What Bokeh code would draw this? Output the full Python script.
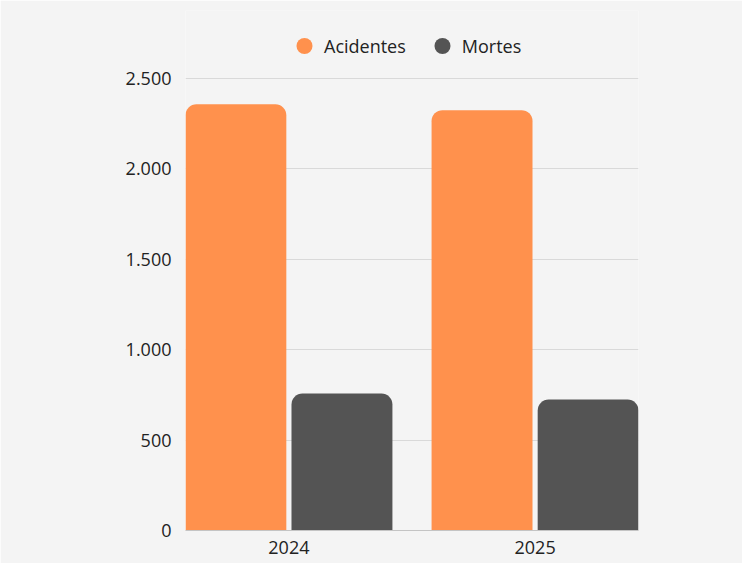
import numpy as np
from bokeh.plotting import figure
from bokeh.models import (ColumnDataSource, Range1d, FixedTicker, Legend, LegendItem)
from bokeh.transform import dodge
from bokeh.embed import file_html
from bokeh.resources import INLINE

# ---- data ----
years = ["2024", "2025"]
acidentes = [2357, 2325]
mortes = [758, 724]
y_ticks = [0, 500, 1000, 1500, 2000, 2500]
y_tick_labels = ["0", "500", "1.000", "1.500", "2.000", "2.500"]
series_names = ["Acidentes", "Mortes"]
colors = ["#FF914D", "#545454"]

FONT = "Open Sans"
BG = "#f4f4f4"

# layout constants (pixels)
FIG_W, FIG_H = 742, 563
TOP, BOTTOM, LEFT, RIGHT = 10, 33, 185, 104
AXIS_SPAN = 452          # pixels between 0 and the top tick
frame_h = FIG_H - TOP - BOTTOM
y_end = y_ticks[-1] * frame_h / AXIS_SPAN   # leave room for the legend inside the frame

xpos = list(range(len(years)))
src = ColumnDataSource(dict(x=xpos, acidentes=acidentes, mortes=mortes))

p = figure(width=FIG_W, height=FIG_H,
           x_range=Range1d(-0.42, 1.42), y_range=Range1d(0, y_end),
           output_backend="svg", toolbar_location=None,
           min_border_left=LEFT, min_border_right=RIGHT,
           min_border_top=TOP, min_border_bottom=BOTTOM,
           background_fill_color=BG, border_fill_color=BG,
           outline_line_color=None)

bw = 0.41
off = 0.2155
p.vbar(x=dodge("x", -off, range=p.x_range), top="acidentes", width=bw, source=src,
       fill_color=colors[0], line_color=None, border_radius=(11, 11, 0, 0))
p.vbar(x=dodge("x", off, range=p.x_range), top="mortes", width=bw, source=src,
       fill_color=colors[1], line_color=None, border_radius=(11, 11, 0, 0))

# legend-only circle renderers (no visible points)
leg_src = ColumnDataSource(dict(x=np.array(xpos, dtype=float),
                                y=np.full(len(xpos), np.nan)))
r1 = p.scatter(x="x", y="y", source=leg_src, marker="circle", size=18,
               fill_color=colors[0], line_color=None)
r2 = p.scatter(x="x", y="y", source=leg_src, marker="circle", size=18,
               fill_color=colors[1], line_color=None)

legend = Legend(items=[LegendItem(label=series_names[0], renderers=[r1], index=0),
                       LegendItem(label=series_names[1], renderers=[r2], index=0)],
                location=(99, 462), orientation="horizontal",
                glyph_width=40, glyph_height=45, label_standoff=0,
                spacing=16, padding=0, margin=0,
                background_fill_alpha=0, border_line_alpha=0,
                label_text_font=FONT, label_text_font_size="18px",
                label_text_color="#222222")
p.add_layout(legend, "center")

# axes
p.xaxis.ticker = FixedTicker(ticks=xpos)
p.xaxis.major_label_overrides = {i: y for i, y in zip(xpos, years)}
p.xaxis.axis_line_color = "#c4c4c4"
p.xaxis.major_tick_line_color = None
p.xaxis.minor_tick_line_color = None
p.xaxis.major_label_standoff = 4
p.xaxis.major_label_text_font = FONT
p.xaxis.major_label_text_font_size = "18px"
p.xaxis.major_label_text_color = "#222222"

p.yaxis.ticker = FixedTicker(ticks=y_ticks)
p.yaxis.major_label_overrides = {t: l for t, l in zip(y_ticks, y_tick_labels)}
p.yaxis.axis_line_color = None
p.yaxis.major_tick_line_color = None
p.yaxis.minor_tick_line_color = None
p.yaxis.major_label_standoff = 8
p.yaxis.major_label_text_font = FONT
p.yaxis.major_label_text_font_size = "18px"
p.yaxis.major_label_text_color = "#222222"

p.xgrid.grid_line_color = None
p.ygrid.ticker = FixedTicker(ticks=y_ticks)
p.ygrid.grid_line_color = "#d9d9d9"
p.ygrid.grid_line_width = 1

open("out.html", "w").write(file_html(p, INLINE))
